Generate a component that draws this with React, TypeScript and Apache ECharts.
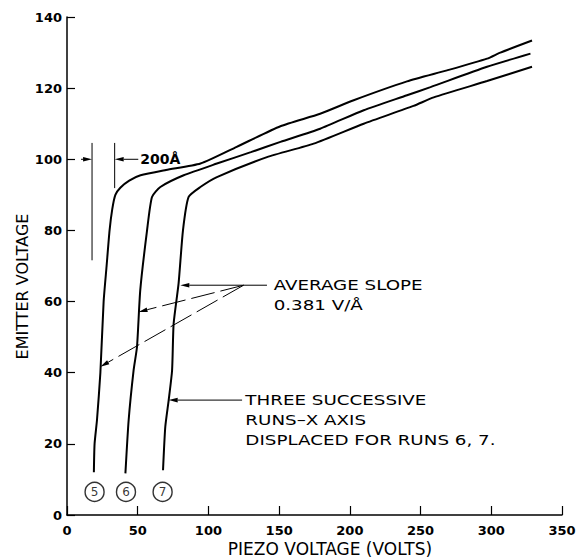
import React, { useEffect, useRef } from "react";
import * as echarts from "echarts";

// Run 5 (piezo volts, emitter volts)
const run5X = [19, 19.5, 21.2, 23.6, 25.9, 28, 30.1, 32, 34.2, 37.7, 44, 52, 70, 94.4, 120, 150.9, 179, 202.7, 240.4, 268.7, 297, 306.4, 328.8];
const run5Y = [12, 20, 26.7, 40, 60, 70, 80, 86, 90, 92, 94, 95.5, 97, 98.8, 103.5, 109.3, 112.8, 116.6, 121.9, 125, 128.3, 130, 133.4];
// Run 6
const run6X = [41.3, 43.6, 47.1, 49.5, 51.8, 56.6, 60.1, 66, 82.5, 106, 130, 150.9, 179, 209.8, 240.4, 257, 297, 327.7];
const run6Y = [11.7, 26.7, 40.7, 47.3, 63.2, 80, 89.4, 92.2, 95.5, 98.8, 102, 104.9, 108.6, 113.8, 118, 120.3, 126, 129.7];
// Run 7
const run7X = [67.9, 69.5, 71.9, 74.3, 75.4, 78.9, 82, 86, 94.3, 106, 141.4, 174.4, 209.8, 245, 259.3, 297, 328.8];
const run7Y = [12.6, 24.8, 32.3, 40.7, 53.8, 65.1, 80, 89.4, 92.2, 95, 100.6, 104.4, 110, 115, 117.4, 122, 126];

const runNames = ["5", "6", "7"];
const runLabelX = [19.5, 41.7, 67.6];
const runLabelY = [6.5, 6.5, 6.5];

const xTickValues = [0, 50, 100, 150, 200, 250, 300, 350];
const yTickValues = [0, 20, 40, 60, 80, 100, 120, 140];

export default function App() {
  const ref = useRef<HTMLDivElement>(null);
  useEffect(() => {
    const chart = echarts.init(ref.current!, null, { renderer: "svg" });
    const font = "'DejaVu Sans', sans-serif";
    const zip = (xs: number[], ys: number[]) => xs.map((x, i) => [x, ys[i]]);
    const curve = (name: string, xs: number[], ys: number[]) => ({
      type: "line",
      name,
      data: zip(xs, ys),
      showSymbol: false,
      symbol: "none",
      smooth: 0.2,
      lineStyle: { color: "#000", width: 2 },
      z: 3,
    });
    chart.setOption({
      animation: false,
      backgroundColor: "#fff",
      grid: { left: 67, right: 19, top: 17, bottom: 45, containLabel: false, outerBoundsMode: "none" },
      xAxis: {
        type: "value",
        min: xTickValues[0],
        max: xTickValues[xTickValues.length - 1],
        interval: 50,
        name: "PIEZO VOLTAGE (VOLTS)",
        nameLocation: "middle",
        nameGap: 25,
        nameMoveOverlap: false,
        nameTextStyle: { fontFamily: font, fontSize: 17, color: "#000", padding: [0, 0, 0, 31] },
        axisLine: { lineStyle: { color: "#000", width: 1.5 } },
        axisTick: { inside: true, length: 9, lineStyle: { color: "#000", width: 1.2 } },
        axisLabel: { fontFamily: font, fontSize: 13, fontWeight: "bold", color: "#000", margin: 9 },
        splitLine: { show: false },
      },
      yAxis: {
        type: "value",
        min: yTickValues[0],
        max: yTickValues[yTickValues.length - 1],
        interval: 20,
        name: "EMITTER VOLTAGE",
        nameLocation: "middle",
        nameGap: 37,
        nameMoveOverlap: false,
        nameTextStyle: { fontFamily: font, fontSize: 16, color: "#000", padding: [0, 41, 0, 0] },
        axisLine: { lineStyle: { color: "#000", width: 1.5 } },
        axisTick: { inside: true, length: 8, lineStyle: { color: "#000", width: 1.2 } },
        axisLabel: { fontFamily: font, fontSize: 13, fontWeight: "bold", color: "#000", margin: 5 },
        splitLine: { show: false },
      },
      series: [
        curve("Run 5", run5X, run5Y),
        curve("Run 6", run6X, run6Y),
        curve("Run 7", run7X, run7Y),
        {
          type: "scatter",
          name: "Run labels",
          data: runNames.map((n, i) => ({ name: n, value: [runLabelX[i], runLabelY[i]] })),
          symbol: "circle",
          symbolSize: 19,
          itemStyle: { color: "#fff", borderColor: "#000", borderWidth: 1.4 },
          label: {
            show: true,
            position: "inside",
            formatter: (p: any) => p.name,
            fontFamily: font,
            fontSize: 12,
            color: "#000",
          },
          z: 4,
        },
      ],
    });

    const P = (x: number, y: number) => chart.convertToPixel({ gridIndex: 0 }, [x, y]) as number[];
    const stroke = { stroke: "#000", lineWidth: 1 };
    const seg = (a: number[], b: number[], dash?: number[]) => ({
      type: "line",
      z: 10,
      shape: { x1: a[0], y1: a[1], x2: b[0], y2: b[1] },
      style: dash ? { ...stroke, lineDash: dash } : stroke,
    });
    const arrow = (tail: number[], tip: number[], dash?: number[]) => {
      const dx = tip[0] - tail[0];
      const dy = tip[1] - tail[1];
      const len = Math.hypot(dx, dy);
      const ux = dx / len;
      const uy = dy / len;
      const L = 9;
      const W = 2.3;
      const bx = tip[0] - ux * L;
      const by = tip[1] - uy * L;
      return [
        seg(tail, [bx, by], dash),
        {
          type: "polygon",
          z: 10,
          shape: { points: [tip, [bx - uy * W, by + ux * W], [bx + uy * W, by - ux * W]] },
          style: { fill: "#000" },
        },
      ];
    };
    const label = (p: number[], text: string, size = 14.5, weight = "normal", sx = 1.26) => ({
      type: "text",
      z: 10,
      x: p[0],
      y: p[1] - 10,
      scaleX: sx,
      style: {
        text,
        fontFamily: font,
        fontSize: size,
        fontWeight: weight,
        lineHeight: 20,
        fill: "#000",
        align: "left",
        verticalAlign: "top",
      },
    });

    // 200 Å marker
    const lb1 = P(17.7, 71.6), lb2 = P(17.7, 104.6);
    const rb1 = P(33.7, 91.9), rb2 = P(33.7, 104.6);
    // average slope
    const J = P(124.9, 64.6);
    const hEnd = P(141.4, 64.6);
    const slopeDash = [24, 6];
    // three successive
    const tsTip = P(71.9, 32.3), tsTail = P(123.8, 32.3);

    const elements: any[] = [
      seg(lb1, lb2),
      seg(rb1, rb2),
      ...arrow(P(9.9, 100), P(17.7, 100)),
      ...arrow(P(50.4, 100), P(33.7, 100)),
      label(P(51.8, 100), "200Å", 14, "bold", 1),
      seg(J, hEnd),
      ...arrow(J, P(80.1, 64.6)),
      ...arrow(J, P(50.6, 57.1), slopeDash),
      ...arrow(J, P(23.6, 41.7), slopeDash),
      label(P(146.1, 64.6), "AVERAGE SLOPE\n0.381 V/Å"),
      ...arrow(tsTail, tsTip),
      label(P(126.1, 32.3), "THREE SUCCESSIVE\nRUNS–X AXIS\nDISPLACED FOR RUNS 6, 7."),
    ];
    chart.setOption({ graphic: elements });
    return () => chart.dispose();
  }, []);
  return <div ref={ref} style={{ position: "fixed", left: 0, top: 0, width: 581, height: 560 }} />;
}
